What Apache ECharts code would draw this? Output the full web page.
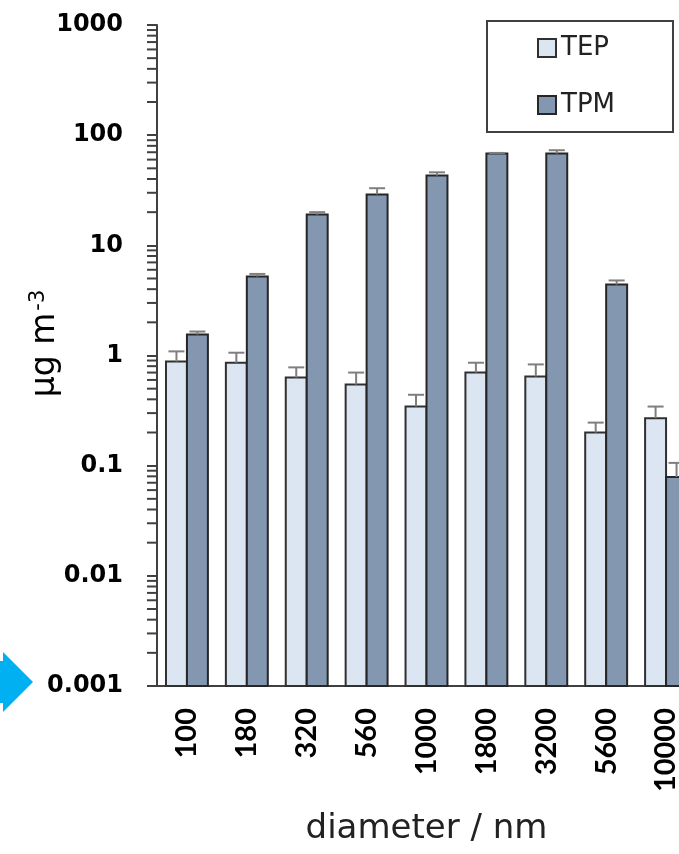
<!DOCTYPE html>
<html>
<head>
<meta charset="utf-8" />
<title>TEP / TPM</title>
<script src="https://cdn.jsdelivr.net/npm/echarts@6.0.0/dist/echarts.min.js"></script>
<style>
html, body { margin: 0; padding: 0; background: #fff; }
</style>
</head>
<body>
<div id="main" style="width: 679px;height:854px;"></div>
<script type="text/javascript">
var myChart = echarts.init(document.getElementById('main'));

// diameters (nm)
var categories = ['100', '180', '320', '560', '1000', '1800', '3200', '5600', '10000'];
// mean values, µg m-3
var tepValues = [0.88, 0.86, 0.63, 0.545, 0.345, 0.70, 0.645, 0.20, 0.27];
var tpmValues = [1.55, 5.2, 19, 29, 43, 68, 68, 4.4, 0.079];
// top of the error bars
var tepErrTop = [1.09, 1.06, 0.78, 0.70, 0.44, 0.86, 0.83, 0.246, 0.344];
var tpmErrTop = [1.65, 5.5, 20, 33, 46, 69, 73, 4.8, 0.106];

var TEP_STYLE = { color: '#dce6f2', borderColor: '#303030', borderWidth: 2 };
var TPM_STYLE = { color: '#8497b0', borderColor: '#262626', borderWidth: 2 };

// minor ticks at 2..9 of each decade
var minorTicks = [];
for (var d = -3; d < 3; d++) {
  for (var m = 2; m <= 9; m++) {
    minorTicks.push([0, m * Math.pow(10, d)]);
  }
}

// bars drawn from the bottom of the log axis (log bars would start at 1 otherwise)
function barRender(side, st) {
  return function (params, api) {
    var i = api.value(0);
    var top = api.coord([i, api.value(1)]);
    var cs = params.coordSys;
    var band = cs.width / categories.length;
    var w = band * 0.35;
    var cx = top[0] + side * w / 2;
    var bottom = cs.y + cs.height;
    return {
      type: 'rect',
      shape: { x: cx - w / 2, y: top[1], width: w, height: bottom - top[1] },
      style: { fill: st.color, stroke: st.borderColor, lineWidth: st.borderWidth }
    };
  };
}

function errRender(side) {
  return function (params, api) {
    var i = api.value(0);
    var p0 = api.coord([i, api.value(1)]);
    var p1 = api.coord([i, api.value(2)]);
    var band = params.coordSys.width / categories.length;
    var cx = p0[0] + side * band * 0.175;
    var style = { stroke: '#7f7f7f', lineWidth: 2 };
    return {
      type: 'group',
      children: [
        { type: 'line', shape: { x1: cx, y1: p0[1], x2: cx, y2: p1[1] }, style: style },
        { type: 'line', shape: { x1: cx - 8, y1: p1[1], x2: cx + 8, y2: p1[1] }, style: style }
      ]
    };
  };
}

function pairs(vals) {
  return vals.map(function (v, i) { return [i, v]; });
}
function errData(vals, tops) {
  return vals.map(function (v, i) { return [i, v, tops[i]]; });
}

option = {
  animation: false,
  grid: { left: 157, top: 25, height: 661, width: 539, outerBoundsMode: 'none', containLabel: false },
  legend: {
    data: [
      { name: 'TEP', itemStyle: TEP_STYLE },
      { name: 'TPM', itemStyle: TPM_STYLE }
    ],
    orient: 'vertical',
    left: 487,
    top: 21,
    padding: [12, 58, 12, 50],
    itemGap: 27,
    itemWidth: 18,
    itemHeight: 18,
    borderColor: '#404040',
    borderWidth: 2,
    icon: 'rect',
    textStyle: { fontFamily: 'DejaVu Sans', fontSize: 26, color: '#222', lineHeight: 30 }
  },
  xAxis: {
    type: 'category',
    data: categories,
    name: 'diameter / nm',
    nameLocation: 'middle',
    nameGap: 126,
    nameTextStyle: { fontFamily: 'DejaVu Sans', fontSize: 34, color: '#222' },
    axisLine: { lineStyle: { color: '#404040', width: 2 } },
    axisTick: { show: false },
    axisLabel: {
      rotate: 90,
      interval: 0,
      margin: 22,
      fontFamily: 'Lato',
      fontWeight: 'bold',
      fontSize: 29,
      color: '#000'
    }
  },
  yAxis: {
    type: 'log',
    logBase: 10,
    min: 0.001,
    max: 1000,
    interval: 1,
    name: '{n|µg m}{s|-3}',
    nameLocation: 'middle',
    nameRotate: 90,
    nameGap: 94,
    nameMoveOverlap: false,
    nameTextStyle: {
      padding: [0, 0, 0, 24],
      rich: {
        n: { fontFamily: 'DejaVu Sans', fontSize: 33, color: '#000' },
        s: { fontFamily: 'DejaVu Sans', fontSize: 21, color: '#000', verticalAlign: 'top', padding: [0, 0, 14, 2] }
      }
    },
    axisLine: { show: true, lineStyle: { color: '#404040', width: 2 } },
    axisTick: { show: true, length: 10, lineStyle: { color: '#404040', width: 2 } },
    splitLine: { show: false },
    axisLabel: {
      margin: 34,
      fontFamily: 'DejaVu Sans',
      fontWeight: 'bold',
      fontSize: 24,
      color: '#000',
      formatter: function (v) { return String(+v.toPrecision(3)); }
    }
  },
  series: [
    {
      name: 'TEP',
      type: 'custom',
      renderItem: barRender(-1, TEP_STYLE),
      itemStyle: TEP_STYLE,
      data: pairs(tepValues),
      z: 2
    },
    {
      name: 'TPM',
      type: 'custom',
      renderItem: barRender(1, TPM_STYLE),
      itemStyle: TPM_STYLE,
      data: pairs(tpmValues),
      z: 2
    },
    {
      name: 'TEP err',
      type: 'custom',
      renderItem: errRender(-1),
      data: errData(tepValues, tepErrTop),
      z: 3
    },
    {
      name: 'TPM err',
      type: 'custom',
      renderItem: errRender(1),
      data: errData(tpmValues, tpmErrTop),
      z: 3
    },
    {
      name: 'minor ticks',
      type: 'custom',
      clip: false,
      renderItem: function (params, api) {
        var y = api.coord([0, api.value(1)])[1];
        var x = params.coordSys.x;
        return {
          type: 'line',
          shape: { x1: x - 10, y1: y, x2: x, y2: y },
          style: { stroke: '#404040', lineWidth: 2 }
        };
      },
      data: minorTicks,
      z: 1
    }
  ],
  graphic: [
    {
      type: 'polygon',
      shape: { points: [[0, 661], [3, 661], [3, 652], [33, 682], [3, 712], [3, 703], [0, 703]] },
      style: { fill: '#00b0f0' }
    }
  ]
};

myChart.setOption(option);
</script>
</body>
</html>
